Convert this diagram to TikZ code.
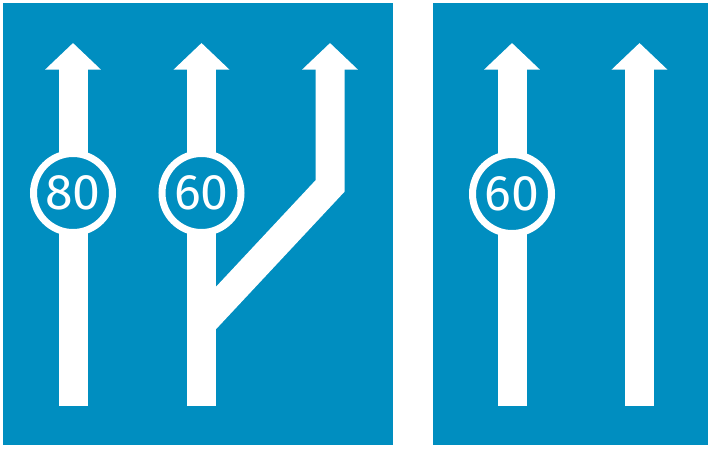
\documentclass[tikz,border=0pt]{standalone}
\usepackage{fontspec}
\newfontfamily\signfont{Fira Sans}
\usetikzlibrary{arrows.meta}
\definecolor{signblue}{RGB}{0,142,192}

\begin{document}
\begin{tikzpicture}[x=1pt, y=-1pt,
  lane/.style={white, line width=29pt, line join=miter, -{Triangle[width=54pt,length=26.5pt]}},
  limit/.style={circle, draw=white, line width=7pt, fill=signblue, minimum size=79pt, inner sep=0pt, text=white, font=\signfont\fontsize{50}{50}\selectfont}]
\useasboundingbox (0,0) rectangle (711,448);
\fill[white] (0,0) rectangle (711,448);

% Two sign panels
\fill[signblue] (2.5,3) rectangle (393,445);
\fill[signblue] (433,3) rectangle (707.5,445);

% Lane ends
\coordinate (b1) at (73,406);   \coordinate (t1) at (73,43);
\coordinate (b2) at (201.5,406); \coordinate (t2) at (201.5,43);
\coordinate (j3) at (201.5,323.5); \coordinate (k3) at (330,186); \coordinate (t3) at (330,43);
\coordinate (b4) at (512,406);  \coordinate (t4) at (512,43);
\coordinate (b5) at (639.5,406); \coordinate (t5) at (639.5,43);

% Lane arrows
\draw[lane] (b1) -- (t1);
\draw[lane] (b2) -- (t2);
\draw[lane] (j3) -- (k3) -- (t3);
\draw[lane] (b4) -- (t4);
\draw[lane] (b5) -- (t5);

% Speed limits
\node[limit] (v1) at (73,193) {80};
\node[limit] (v2) at (201.5,193) {60};
\node[limit] (v4) at (512,194) {60};
\end{tikzpicture}
\end{document}
